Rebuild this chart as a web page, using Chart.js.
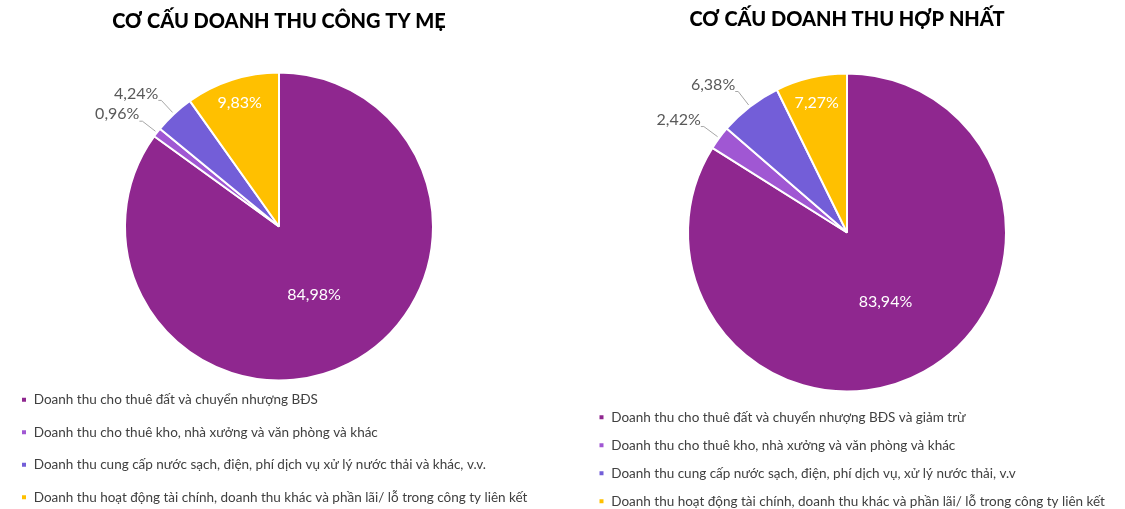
<!DOCTYPE html>
<html lang="vi">
<head>
<meta charset="UTF-8">
<title>Cơ cấu doanh thu</title>
<script src="https://cdn.jsdelivr.net/npm/chart.js"></script>
<style>
    html, body { margin: 0; padding: 0; background: #fff; overflow: hidden; }
    .pie-box { position: absolute; top: 0; }
    #leftBox { left: 0; width: 562px; height: 514px; }
    #rightBox { left: 562px; width: 563px; height: 518px; }
</style>
</head>
<body>
<div id="leftBox" class="pie-box"><canvas id="leftChart"></canvas></div>
<div id="rightBox" class="pie-box"><canvas id="rightChart"></canvas></div>

<script>
// Dữ liệu
const leftTitle = 'CƠ CẤU DOANH THU CÔNG TY MẸ';
const leftLabels = [
    'Doanh thu cho thuê đất và chuyển nhượng BĐS',
    'Doanh thu cho thuê kho, nhà xưởng và văn phòng và khác',
    'Doanh thu cung cấp nước sạch, điện, phí dịch vụ xử lý nước thải và khác, v.v.',
    'Doanh thu hoạt động tài chính, doanh thu khác và phần lãi/ lỗ trong công ty liên kết'
];
const leftValues = [84.98, 0.96, 4.24, 9.83];

const rightTitle = 'CƠ CẤU DOANH THU HỢP NHẤT';
const rightLabels = [
    'Doanh thu cho thuê đất và chuyển nhượng BĐS và giảm trừ',
    'Doanh thu cho thuê kho, nhà xưởng và văn phòng và khác',
    'Doanh thu cung cấp nước sạch, điện, phí dịch vụ, xử lý nước thải, v.v',
    'Doanh thu hoạt động tài chính, doanh thu khác và phần lãi/ lỗ trong công ty liên kết'
];
const rightValues = [83.94, 2.42, 6.38, 7.27];

const sliceColors = ['#8F278F', '#A057D3', '#735ED8', '#FFC000'];

// Nhãn phần trăm trên lát bánh
const pctLabels = {
    id: 'pctLabels',
    afterDatasetsDraw(chart) {
        const ctx = chart.ctx;
        const meta = chart.getDatasetMeta(0);
        const values = chart.data.datasets[0].data;
        ctx.save();
        ctx.font = '16px Lato';
        ctx.textBaseline = 'middle';
        meta.data.forEach((arc, i) => {
            const p = arc.getProps(['x', 'y', 'startAngle', 'endAngle', 'outerRadius'], true);
            const mid = (p.startAngle + p.endAngle) / 2;
            const cos = Math.cos(mid), sin = Math.sin(mid);
            const text = values[i].toFixed(2).replace('.', ',') + '%';
            if (values[i] < 7) {
                // nhãn bên ngoài + đường dẫn
                const r0 = p.outerRadius + 2;
                const r1 = p.outerRadius * 1.12;
                const ex = p.x + cos * r1, ey = p.y + sin * r1;
                ctx.strokeStyle = '#A6A6A6';
                ctx.lineWidth = 1;
                ctx.beginPath();
                ctx.moveTo(p.x + cos * r0, p.y + sin * r0);
                ctx.lineTo(ex, ey);
                ctx.lineTo(ex - 3, ey);
                ctx.stroke();
                ctx.fillStyle = '#595959';
                ctx.textAlign = 'right';
                ctx.fillText(text, ex - 3, ey - 7);
            } else {
                const f = values[i] > 50 ? 0.5 : 0.84;
                ctx.fillStyle = '#ffffff';
                ctx.textAlign = 'center';
                ctx.fillText(text, p.x + cos * p.outerRadius * f, p.y + sin * p.outerRadius * f);
            }
        });
        ctx.restore();
    }
};

function makePie(id, title, labels, values, cfg) {
    return new Chart(document.getElementById(id), {
        type: 'pie',
        data: {
            labels: labels,
            datasets: [{
                data: values,
                backgroundColor: sliceColors,
                borderColor: '#ffffff',
                borderWidth: 2,
                hoverOffset: 0
            }]
        },
        options: {
            responsive: true,
            maintainAspectRatio: false,
            animation: false,
            radius: cfg.radius,
            layout: { padding: cfg.padding },
            plugins: {
                title: {
                    display: true,
                    text: title,
                    color: '#000000',
                    font: { family: 'Lato', size: 20, weight: '900' },
                    padding: cfg.titlePadding
                },
                legend: {
                    position: 'bottom',
                    align: 'start',
                    labels: {
                        usePointStyle: true,
                        pointStyle: 'rect',
                        boxWidth: 6,
                        boxHeight: 6,
                        padding: cfg.legendPadding,
                        color: '#404040',
                        font: { family: 'Lato', size: 13.5 }
                    }
                },
                tooltip: { enabled: false }
            }
        },
        plugins: [pctLabels]
    });
}

makePie('leftChart', leftTitle, leftLabels, leftValues, {
    radius: 154,
    padding: { left: 2, right: 6, top: 0, bottom: 0 },
    titlePadding: { top: 10, bottom: 45 },
    legendPadding: 19
});

makePie('rightChart', rightTitle, rightLabels, rightValues, {
    radius: 159,
    padding: { left: 22, right: 15, top: 0, bottom: 0 },
    titlePadding: { top: 8, bottom: 37 },
    legendPadding: 14.5
});
</script>
</body>
</html>
